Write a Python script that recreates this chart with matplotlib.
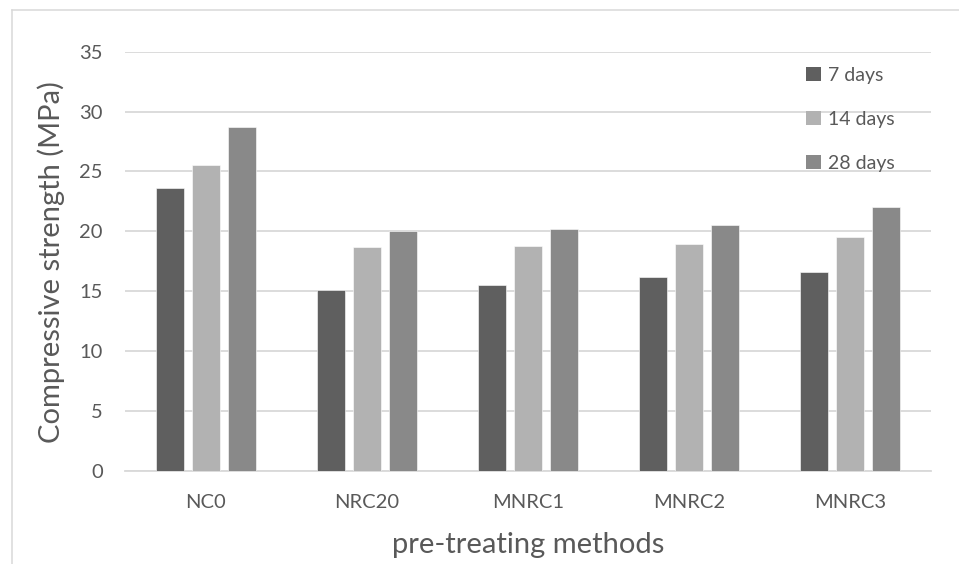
import numpy as np
import matplotlib.pyplot as plt
from matplotlib.patches import Patch
from matplotlib.lines import Line2D

plt.rcParams['font.family'] = ['Lato', 'DejaVu Sans']

# Compressive strength (MPa) per mix and curing age
methods = ['NC0', 'NRC20', 'MNRC1', 'MNRC2', 'MNRC3']
ages = ['7 days', '14 days', '28 days']
days_7 = [23.65, 15.1, 15.5, 16.2, 16.6]
days_14 = [25.55, 18.7, 18.8, 18.9, 19.5]
days_28 = [28.75, 20.0, 20.2, 20.5, 22.0]
y_ticks = [0, 5, 10, 15, 20, 25, 30, 35]

colors = ['#5f5f5f', '#b2b2b2', '#898989']
text_color = '#595959'
grid_color = '#d9d9d9'

W, H = 959, 564
fig = plt.figure(figsize=(W / 100, H / 100), dpi=100)
ax = fig.add_axes([125 / W, 1 - 470.7 / H, 806 / W, 419 / H])

x = np.arange(len(methods))
width = 0.174
step = 0.2233
for i, (vals, c) in enumerate(zip([days_7, days_14, days_28], colors)):
    ax.bar(x + (i - 1) * step, vals, width, color=c, edgecolor='#ffffff',
           linewidth=0.4, zorder=3)

ax.set_xlim(-0.5, len(methods) - 0.5)
ax.set_ylim(0, 35)
ax.set_yticks(y_ticks)
ax.set_xticks(x)
ax.set_xticklabels(methods)

# light horizontal gridlines, no frame
ax.grid(axis='y', color=grid_color, linewidth=1.3, zorder=0)
for s in ['top', 'right', 'left']:
    ax.spines[s].set_visible(False)
ax.spines['bottom'].set_color(grid_color)
ax.spines['bottom'].set_linewidth(1.3)
ax.tick_params(axis='both', length=0, labelsize=14.5, colors=text_color)
ax.tick_params(axis='x', pad=17)
ax.tick_params(axis='y', pad=16)

fig.text(51 / W, 1 - 262 / H, 'Compressive strength (MPa)', rotation=90,
         ha='center', va='center', fontsize=21, color=text_color)
fig.text(528.5 / W, 1 - 553 / H, 'pre-treating methods', ha='center',
         va='baseline', fontsize=21, color=text_color)

handles = [Patch(facecolor=c, edgecolor='none') for c in colors]
fig.legend(handles, ages, loc='upper left', bbox_to_anchor=(806 / W, 1 - 67 / H),
           frameon=False, fontsize=14, labelcolor=text_color,
           handlelength=0.75, handleheight=0.75, handletextpad=0.4,
           labelspacing=1.38, borderpad=0, borderaxespad=0)

# outer chart frame
fig.add_artist(Line2D([11.5 / W, 1], [1 - 9.5 / H] * 2, color=grid_color, lw=1.1))
fig.add_artist(Line2D([11.5 / W] * 2, [0, 1 - 9.5 / H], color=grid_color, lw=1.1))

fig.savefig('out.png', dpi=100)
